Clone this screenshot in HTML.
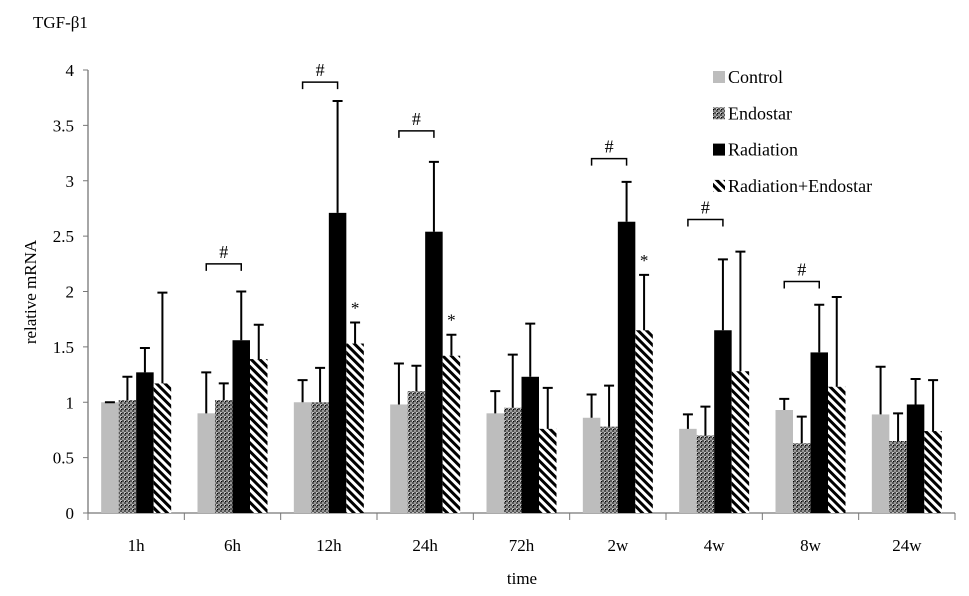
<!DOCTYPE html>
<html><head><meta charset="utf-8"><style>
html,body{margin:0;padding:0;background:#fff;}
svg{display:block;font-family:"Liberation Serif",serif;}
</style></head><body>
<svg id="chart" width="969" height="596" viewBox="0 0 969 596">
<defs>
<pattern id="dots" width="4" height="4" patternUnits="userSpaceOnUse">
<rect width="4" height="4" fill="#555"/><rect x="0" y="0" width="2" height="2" fill="#bbb"/><rect x="2" y="2" width="2" height="2" fill="#999"/><rect x="1" y="1" width="1" height="1" fill="#000"/>
</pattern>
<pattern id="stripes" width="6" height="6" patternUnits="userSpaceOnUse" patternTransform="rotate(-45)">
<rect width="6" height="6" fill="#fff"/><rect width="3" height="6" fill="#000"/>
</pattern>
</defs>
<text x="33" y="28" font-size="17">TGF-β1</text>
<text transform="translate(36,292) rotate(-90)" text-anchor="middle" font-size="17">relative mRNA</text>
<text x="522" y="584" text-anchor="middle" font-size="17">time</text>
<g id="axes"></g>
<g id="bars"></g>
<g id="annot"></g>
<g id="legend"></g>
</svg>
<script>
const categories = ["1h","6h","12h","24h","72h","2w","4w","8w","24w"];
const seriesNames = ["Control","Endostar","Radiation","Radiation+Endostar"];
const control = [1.0,0.9,1.0,0.98,0.9,0.86,0.76,0.93,0.89];
const controlErr = [1.0,1.27,1.2,1.35,1.1,1.07,0.89,1.03,1.32];
const endostar = [1.02,1.02,1.0,1.1,0.95,0.78,0.70,0.63,0.65];
const endostarErr = [1.23,1.17,1.31,1.33,1.43,1.15,0.96,0.87,0.90];
const radiation = [1.27,1.56,2.71,2.54,1.23,2.63,1.65,1.45,0.98];
const radiationErr = [1.49,2.0,3.72,3.17,1.71,2.99,2.29,1.88,1.21];
const radEndo = [1.17,1.39,1.53,1.42,0.76,1.65,1.28,1.14,0.74];
const radEndoErr = [1.99,1.7,1.72,1.61,1.13,2.15,2.36,1.95,1.2];
const yTicks = [0,0.5,1,1.5,2,2.5,3,3.5,4];
const yTickLabels = ["0","0.5","1","1.5","2","2.5","3","3.5","4"];
const hashGroups = ["6h","12h","24h","2w","4w","8w"];
const hashLevels = [2.25,3.89,3.45,3.2,2.65,2.09];
const starGroups = ["12h","24h","2w"];

const NS="http://www.w3.org/2000/svg";
const X0=88, X1=955, Y0=513, PPU=110.75;
const bw=(X1-X0)/categories.length;
const y=v=>Y0-v*PPU;
const catX=i=>X0+i*bw;
const barW=17.5;
const barX=(i,s)=>catX(i)+bw/2-2*barW+s*barW;
function mk(tag,attrs,parent){const e=document.createElementNS(NS,tag);for(const k in attrs)e.setAttribute(k,attrs[k]);parent.appendChild(e);return e;}
const axes=document.getElementById('axes');
let ax=mk('line',{x1:X0,y1:y(4),x2:X0,y2:Y0,stroke:'#777','stroke-width':1.3},axes);


let bx=mk('line',{x1:X0,y1:Y0,x2:X1,y2:Y0,stroke:'#777','stroke-width':1.3},axes);


yTicks.forEach((t,i)=>{
  mk('line',{x1:X0-5,y1:y(t),x2:X0,y2:y(t),stroke:'#777'},axes);
  const tx=mk('text',{x:X0-14,y:y(t)+6,'text-anchor':'end','font-size':17},axes);
  tx.textContent=yTickLabels[i];
  
  
});
for(let i=0;i<=categories.length;i++)mk('line',{x1:catX(i),y1:Y0,x2:catX(i),y2:Y0+7,stroke:'#777'},axes);
categories.forEach((c,i)=>{
  const tx=mk('text',{x:catX(i)+bw/2,y:551,'text-anchor':'middle','font-size':17},axes);
  tx.textContent=c;
  
  
});
const fills=['#bdbdbd','url(#dots)','#000','url(#stripes)'];
const vals=[control,endostar,radiation,radEndo];
const errs=[controlErr,endostarErr,radiationErr,radEndoErr];
const bars=document.getElementById('bars');
categories.forEach((c,i)=>{
  for(let s=0;s<4;s++){
    const v=vals[s][i], e=errs[s][i], x=barX(i,s);
    const r=mk('rect',{x:x,y:y(v),width:barW,height:Y0-y(v),fill:fills[s]},bars);
    
    
    const cx=x+barW/2;
    const el=mk('path',{d:`M${cx},${y(v)}V${y(e)}M${cx-5},${y(e)}H${cx+5}`,stroke:'#000','stroke-width':2,fill:'none'},bars);
    
    
  }
});
const annot=document.getElementById('annot');
hashGroups.forEach((g,k)=>{
  const i=categories.indexOf(g), yy=y(hashLevels[k]);
  const a=barX(i,0)+barW/2, b=barX(i,2)+barW/2;
  const p=mk('path',{d:`M${a},${yy+7}V${yy}H${b}V${yy+7}`,stroke:'#000','stroke-width':1.5,fill:'none'},annot);
  
  
  const t=mk('text',{x:(a+b)/2,y:yy-6,'text-anchor':'middle','font-size':18},annot);
  t.textContent='#';
  
  
});
starGroups.forEach(g=>{
  const i=categories.indexOf(g);
  const t=mk('text',{x:barX(i,3)+barW/2,y:y(radEndoErr[i])-9,'text-anchor':'middle','font-size':17},annot);
  t.textContent='*';
  
  
});
const legend=document.getElementById('legend');
seriesNames.forEach((n,s)=>{
  const ly=77+s*36.3;
  const r=mk('rect',{x:713,y:ly-6,width:12,height:12,fill:fills[s]},legend);
  
  
  const t=mk('text',{x:728,y:ly+6,'font-size':18},legend);
  t.textContent=n;
  
  
});
</script>
</body></html>
